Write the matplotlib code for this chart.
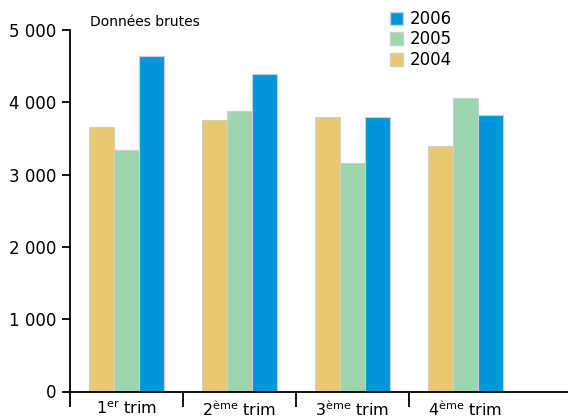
import matplotlib
matplotlib.use('Agg')
import matplotlib.pyplot as plt
from matplotlib.patches import Patch
import numpy as np

plt.rcParams.update({
    'font.family': 'DejaVu Sans',
    'axes.linewidth': 1.3,
})

# Data
categories = [r'1$^{\mathregular{er}}$ trim', r'2$^{\mathregular{ème}}$ trim',
              r'3$^{\mathregular{ème}}$ trim', r'4$^{\mathregular{ème}}$ trim']
years = ['2004', '2005', '2006']
values_2004 = [3655, 3750, 3790, 3390]
values_2005 = [3340, 3885, 3160, 4065]
values_2006 = [4645, 4385, 3790, 3830]
colors = {'2004': '#E8C873', '2005': '#9DD5AF', '2006': '#0096DA'}
yticks = [0, 1000, 2000, 3000, 4000, 5000]
ytick_labels = ['0', '1 000', '2 000', '3 000', '4 000', '5 000']

fig = plt.figure(figsize=(5.68, 4.18), dpi=100)
ax = fig.add_axes([70/568, 1 - 391.5/418, 1 - 70/568, (391.5 - 30)/418])

x = np.arange(len(categories))
w = 0.224
series = [values_2004, values_2005, values_2006]
for i, (yr, vals) in enumerate(zip(years, series)):
    ax.bar(x + (i - 1) * w, vals, width=w, color=colors[yr],
           edgecolor='#cfcfcf', linewidth=0.8, zorder=2)

ax.set_xlim(-0.5, -0.5 + 498/113)
ax.set_ylim(0, 5000)
ax.spines['top'].set_visible(False)
ax.spines['right'].set_visible(False)

ax.set_yticks(yticks)
ax.set_yticklabels(ytick_labels, fontsize=12)
ax.tick_params(axis='y', direction='out', length=6, width=1.3, pad=4)

# boundary ticks between quarters, labels centred on the groups
ax.set_xticks([-0.5, 0.5, 1.5, 2.5])
ax.set_xticklabels([])
ax.tick_params(axis='x', direction='out', length=11, width=1.3)
ax.set_xticks(x, minor=True)
ax.set_xticklabels(categories, minor=True, fontsize=11.5)
ax.tick_params(axis='x', which='minor', length=0, pad=6)

fig.text(90/568, 1 - 22/418, 'Données brutes', fontsize=10, va='center', ha='left')

handles = [Patch(facecolor=colors[yr], edgecolor='#cfcfcf', label=yr)
           for yr in ['2006', '2005', '2004']]
fig.legend(handles=handles, loc='upper left', bbox_to_anchor=(380/568, 1.0),
           frameon=False, fontsize=12, handlelength=0.8, handleheight=0.8,
           handletextpad=0.4, labelspacing=0.15, borderaxespad=0.2)

fig.savefig('out.png', dpi=100)
